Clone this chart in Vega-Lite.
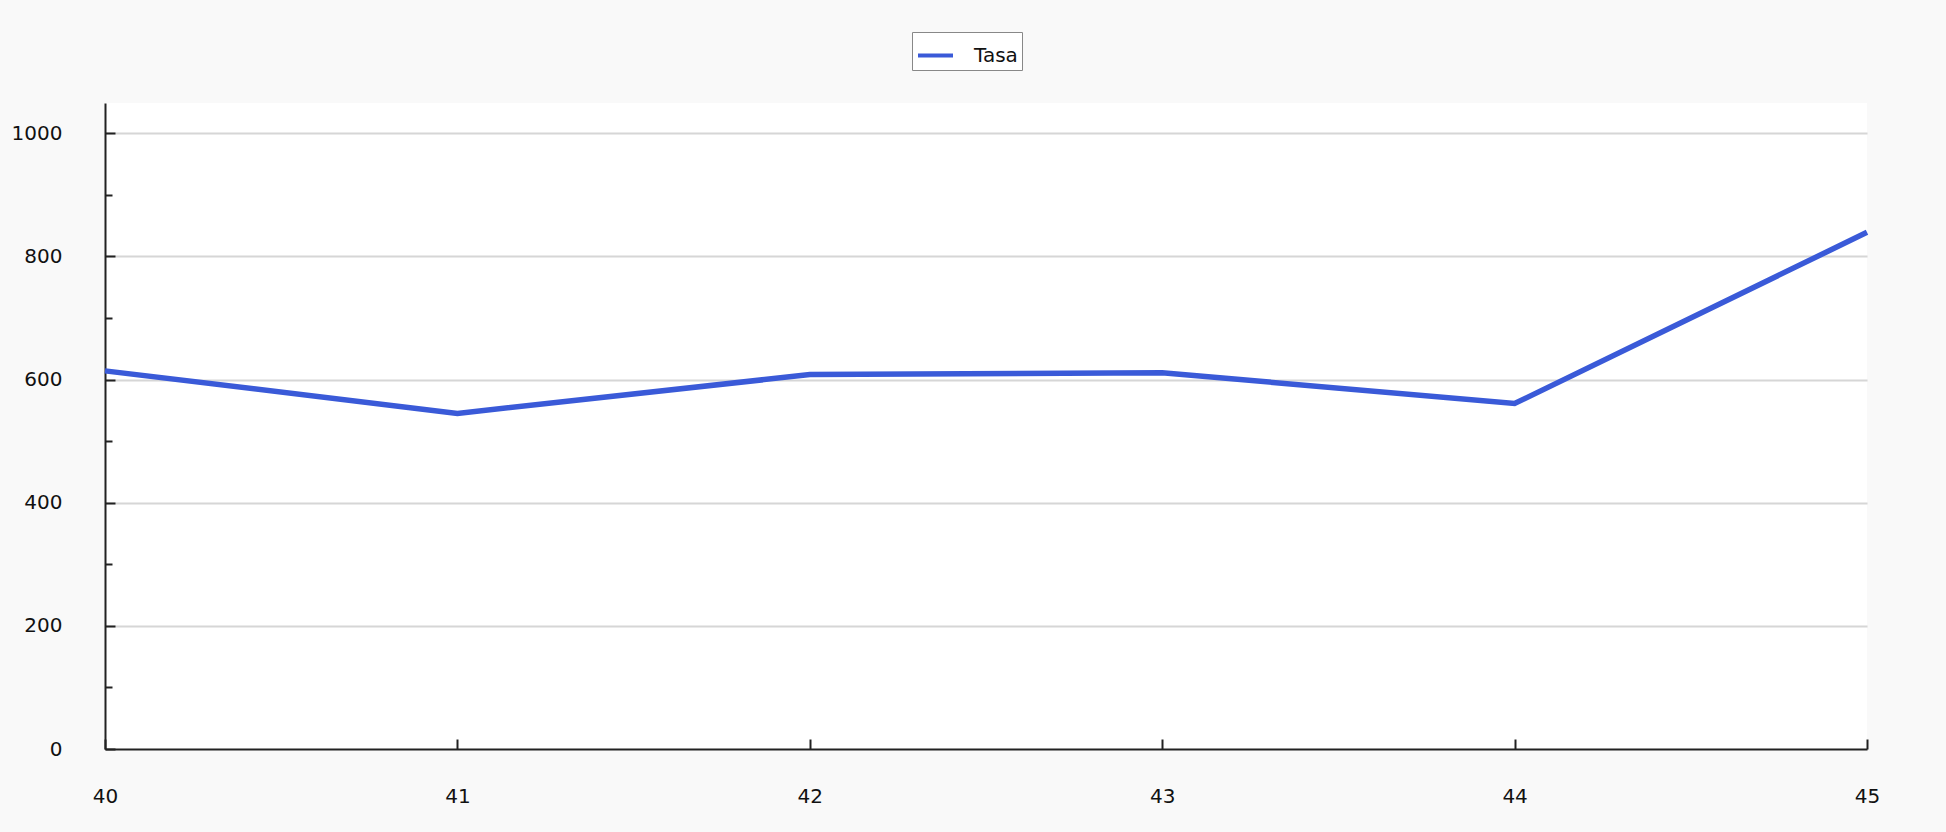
{
  "$schema": "https://vega.github.io/schema/vega-lite/v6.json",
  "width": 1762,
  "height": 646,
  "autosize": {"type": "none"},
  "padding": {"left": 105, "top": 103, "right": 79, "bottom": 83},
  "background": "#f9f9f9",
  "config": {
    "view": {"fill": "#ffffff", "stroke": null},
    "font": "DejaVu Sans",
    "axis": {
      "labelFont": "DejaVu Sans",
      "labelFontSize": 20,
      "labelColor": "#111111",
      "domainColor": "#222222",
      "domainWidth": 2,
      "tickColor": "#222222",
      "tickWidth": 2,
      "gridColor": "#d6d6d6",
      "gridWidth": 2,
      "title": null
    }
  },
  "data": {
    "values": [
      {"x": 40, "valor": 614, "serie": "Tasa"},
      {"x": 41, "valor": 545, "serie": "Tasa"},
      {"x": 42, "valor": 608, "serie": "Tasa"},
      {"x": 43, "valor": 611, "serie": "Tasa"},
      {"x": 44, "valor": 561, "serie": "Tasa"},
      {"x": 45, "valor": 839, "serie": "Tasa"}
    ]
  },
  "mark": {"type": "line", "strokeWidth": 5.5, "clip": false},
  "encoding": {
    "x": {
      "field": "x",
      "type": "quantitative",
      "scale": {"domain": [40, 45], "nice": false, "zero": false},
      "axis": {
        "values": [40, 41, 42, 43, 44, 45],
        "format": "d",
        "grid": false,
        "tickSize": -10,
        "labelPadding": 47,
        "labelFlush": false
      }
    },
    "y": {
      "field": "valor",
      "type": "quantitative",
      "scale": {"domain": [0, 1049], "nice": false},
      "axis": {
        "values": [0, 100, 200, 300, 400, 500, 600, 700, 800, 900, 1000],
        "format": "d",
        "labelExpr": "datum.value % 200 == 0 ? datum.label : ''",
        "tickSize": {"condition": {"test": "datum.value % 200 == 0", "value": -10}, "value": -7},
        "gridOpacity": {"condition": {"test": "datum.value % 200 == 0 && datum.value > 0", "value": 1}, "value": 0},
        "labelPadding": 53,
        "labelFlush": false
      }
    },
    "color": {
      "field": "serie",
      "type": "nominal",
      "scale": {"domain": ["Tasa"], "range": ["#3a5ad8"]},
      "legend": {
        "title": null,
        "orient": "none",
        "legendX": 807,
        "legendY": -71,
        "direction": "vertical",
        "fillColor": "#ffffff",
        "strokeColor": "#888888",
        "padding": 4,
        "symbolType": "stroke",
        "symbolSize": 1225,
        "symbolStrokeWidth": 4,
        "labelFontSize": 20,
        "labelFont": "DejaVu Sans",
        "labelColor": "#111111",
        "labelOffset": 19
      }
    }
  }
}
